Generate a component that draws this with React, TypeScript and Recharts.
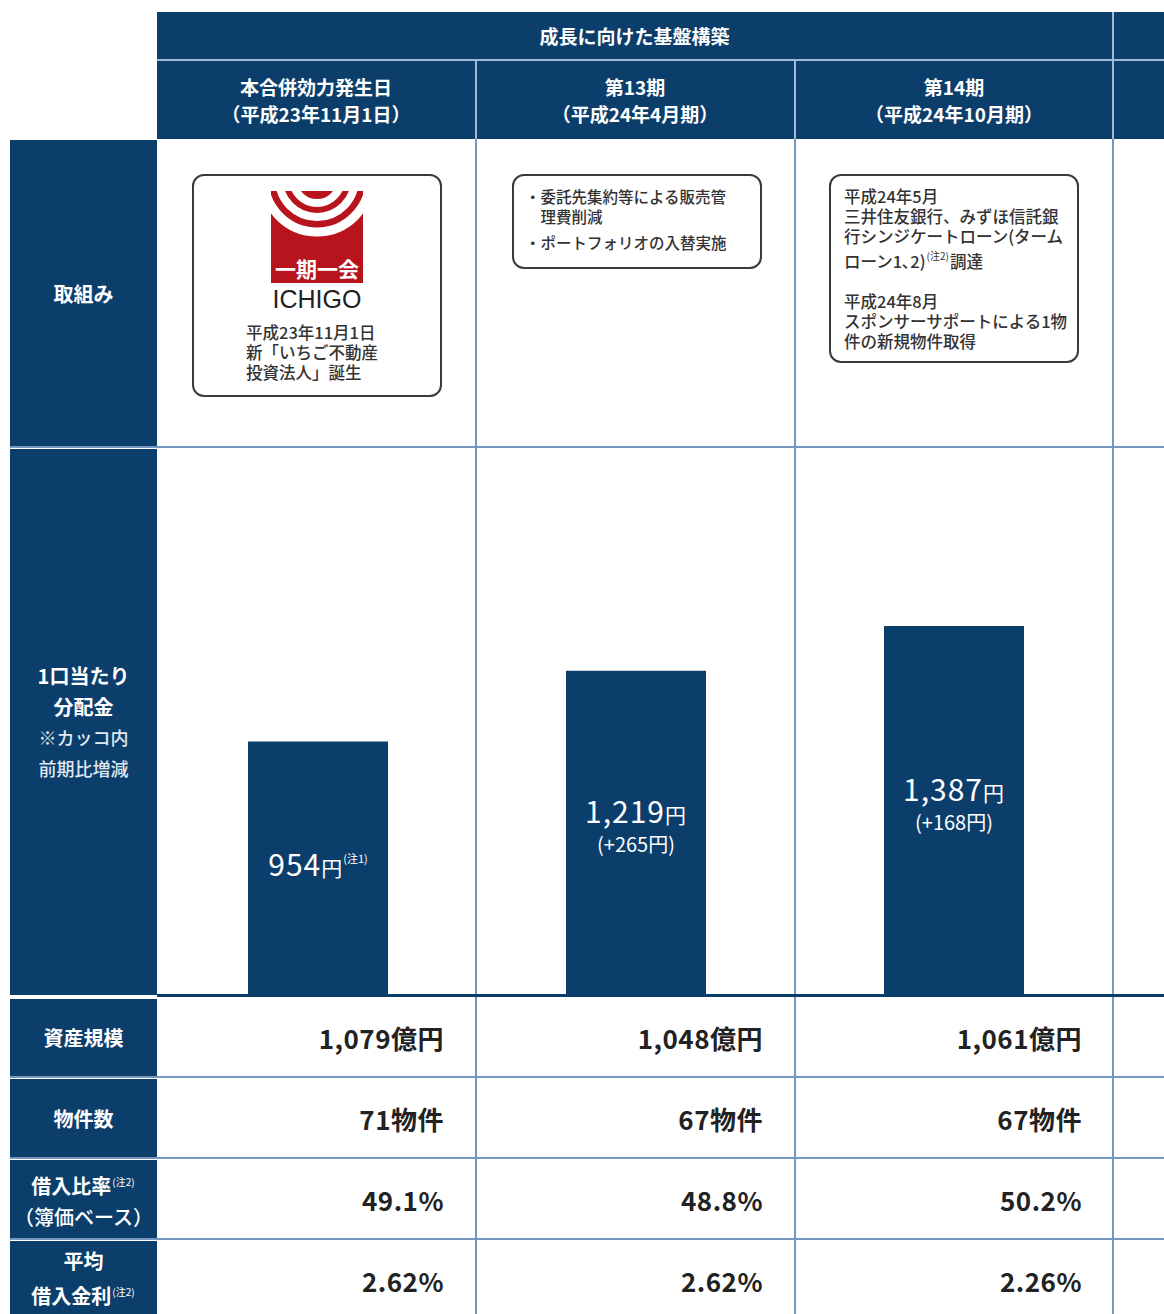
import React from 'react';
import { BarChart, Bar, XAxis, YAxis, LabelList } from 'recharts';

const groupTitle = '成長に向けた基盤構築';
const periodNames = ['本合併効力発生日', '第13期', '第14期'];
const periodDates = ['（平成23年11月1日）', '（平成24年4月期）', '（平成24年10月期）'];
const distribution = [954, 1219, 1387];
const distributionChange: (number | null)[] = [null, 265, 168];
const distributionNote = ['注1', '', ''];
const assetSize = [1079, 1048, 1061];
const propertyCount = [71, 67, 67];
const ltvRatio = [49.1, 48.8, 50.2];
const avgRate = [2.62, 2.62, 2.26];

const box2Lines = ['・委託先集約等による販売管', '　理費削減'];
const box2Last = '・ポートフォリオの入替実施';
const box3Lines = ['平成24年5月', '三井住友銀行、みずほ信託銀', '行シンジケートローン(ターム'];
const box3Lines2 = ['平成24年8月', 'スポンサーサポートによる1物', '件の新規物件取得'];

const chartData = periodNames.map((name, i) => ({
  name,
  value: distribution[i],
  change: distributionChange[i],
  note: distributionNote[i],
}));

const NAVY = '#0c3e6c';
const LINE = '#7598c0';
const HEAD_LINE = '#9fb9d6';
const FONT = "'Noto Sans CJK JP', 'Noto Sans', sans-serif";

const fmt = (n: number) => n.toLocaleString('en-US');

const BarLabel = (props: any) => {
  const { x, y, width, height, index } = props;
  const d = chartData[index];
  const cx = x + width / 2;
  const cy = y + height / 2;
  const hasChange = d.change != null;
  const mainY = hasChange ? cy - 10 : cy + 7;
  return (
    <g fontFamily={FONT} fill="#fff">
      <text x={cx} y={mainY} textAnchor="middle" letterSpacing={1}>
        <tspan fontSize={30}>{fmt(d.value)}</tspan>
        <tspan fontSize={21}>円</tspan>
        {d.note ? (
          <tspan fontSize={11} dy={-13} letterSpacing={0}>
            ({d.note})
          </tspan>
        ) : null}
      </text>
      {hasChange ? (
        <text x={cx} y={cy + 19} textAnchor="middle" fontSize={20}>
          (+{d.change}円)
        </text>
      ) : null}
    </g>
  );
};

const abs = (left: number, top: number, width: number, height: number, extra: React.CSSProperties = {}): React.CSSProperties => ({
  position: 'absolute',
  left,
  top,
  width,
  height,
  ...extra,
});

const colLeft = [157, 476, 795];
const colWidth = 318;
const rowTops = [999, 1079, 1160, 1241];
const rowHeight = 78;

const LeftCell = ({ top, height, children }: { top: number; height: number; children: React.ReactNode }) => (
  <div
    style={abs(10, top, 147, height, {
      background: NAVY,
      color: '#fff',
      display: 'flex',
      flexDirection: 'column',
      alignItems: 'center',
      justifyContent: 'center',
      fontWeight: 700,
      fontSize: 20,
      lineHeight: '31px',
      textAlign: 'center',
    })}
  >
    {children}
  </div>
);

const Sup = ({ t }: { t: string }) => (
  <span style={{ fontSize: 10, verticalAlign: 8, fontWeight: 400, margin: '0 1px' }}>({t})</span>
);

const rowValues: string[][] = [
  assetSize.map((v) => `${fmt(v)}億円`),
  propertyCount.map((v) => `${v}物件`),
  ltvRatio.map((v) => `${v.toFixed(1)}%`),
  avgRate.map((v) => `${v.toFixed(2)}%`),
];

const Logo = () => (
  <svg width={92} height={92} style={{ position: 'absolute', left: 271, top: 191 }}>
    <defs>
      <clipPath id="logoClip">
        <rect x={0} y={0} width={92} height={66} />
      </clipPath>
    </defs>
    <rect x={0} y={0} width={92} height={92} fill="#b8141d" />
    <g clipPath="url(#logoClip)" fill="none" stroke="#fff">
      <circle cx={46} cy={-12} r={53} strokeWidth={9} />
      <circle cx={46} cy={-12} r={38} strokeWidth={8} />
      <circle cx={46} cy={-12} r={24} strokeWidth={8} />
    </g>
    <text x={46} y={86} textAnchor="middle" fill="#fff" fontSize={21} fontWeight={700} fontFamily={FONT}>
      一期一会
    </text>
  </svg>
);

export default function App() {
  return (
    <div style={{ position: 'absolute', left: 0, top: 0, width: 1164, height: 1314, overflow: 'hidden', background: '#fff', fontFamily: FONT }}>
      {/* header */}
      <div style={abs(157, 12, 1007, 127, { background: NAVY })} />
      <div style={abs(157, 59, 1007, 2, { background: HEAD_LINE })} />
      <div style={abs(1112, 12, 2, 127, { background: HEAD_LINE })} />
      <div style={abs(157, 12, 955, 47, { color: '#fff', fontWeight: 700, fontSize: 19, display: 'flex', alignItems: 'center', justifyContent: 'center' })}>
        {groupTitle}
      </div>
      {periodNames.map((p, i) => (
        <React.Fragment key={p}>
          {i > 0 ? <div style={abs(colLeft[i] - 1, 61, 2, 78, { background: HEAD_LINE })} /> : null}
          <div
            style={abs(colLeft[i], 61, colWidth, 78, {
              color: '#fff',
              fontWeight: 700,
              fontSize: 19,
              lineHeight: '27px',
              display: 'flex',
              flexDirection: 'column',
              alignItems: 'center',
              justifyContent: 'center',
              textAlign: 'center',
            })}
          >
            <div>{p}</div>
            <div>{periodDates[i]}</div>
          </div>
        </React.Fragment>
      ))}

      {/* grid lines */}
      {[476, 795, 1113].map((x) => (
        <div key={x} style={abs(x - 1, 139, 2, 1175, { background: LINE })} />
      ))}
      {[447, 1077, 1158, 1239].map((y) => (
        <div key={y} style={abs(10, y - 1, 1154, 2, { background: LINE })} />
      ))}

      {/* left column */}
      <LeftCell top={140} height={306}>取組み</LeftCell>
      <LeftCell top={449} height={546}>
        <div style={{ fontSize: 20 }}>1口当たり</div>
        <div style={{ fontSize: 20 }}>分配金</div>
        <div style={{ fontSize: 18, fontWeight: 500, color: '#dfe8f2' }}>※カッコ内</div>
        <div style={{ fontSize: 18, fontWeight: 500, color: '#dfe8f2' }}>前期比増減</div>
      </LeftCell>
      <LeftCell top={999} height={77}>資産規模</LeftCell>
      <LeftCell top={1079} height={78}>物件数</LeftCell>
      <LeftCell top={1160} height={78}>
        <div>
          借入比率<Sup t="注2" />
        </div>
        <div style={{ fontWeight: 500 }}>（簿価ベース）</div>
      </LeftCell>
      <LeftCell top={1241} height={73}>
        <div>平均</div>
        <div>
          借入金利<Sup t="注2" />
        </div>
      </LeftCell>

      {/* initiatives boxes */}
      <div style={abs(192, 174, 246, 219, { border: '2px solid #3a3a3a', borderRadius: 12, background: '#fff' })} />
      <Logo />
      <div style={abs(192, 284, 250, 30, { textAlign: 'center', fontFamily: "'Liberation Sans', Arial, sans-serif", fontSize: 25, color: '#222', lineHeight: '30px' })}>
        ICHIGO
      </div>
      <div style={abs(246, 322, 190, 70, { fontSize: 16.5, lineHeight: '20px', color: '#333', fontWeight: 500, whiteSpace: 'nowrap' })}>
        <div>平成23年11月1日</div>
        <div>新「いちご不動産</div>
        <div>投資法人」誕生</div>
      </div>

      <div style={abs(512, 174, 246, 91, { border: '2px solid #3a3a3a', borderRadius: 12, background: '#fff' })} />
      <div style={abs(525, 186, 240, 80, { fontSize: 15.5, lineHeight: '20px', color: '#333', fontWeight: 500, whiteSpace: 'nowrap' })}>
        {box2Lines.map((l) => (
          <div key={l}>{l}</div>
        ))}
        <div style={{ marginTop: 6 }}>{box2Last}</div>
      </div>

      <div style={abs(829, 174, 246, 185, { border: '2px solid #3a3a3a', borderRadius: 12, background: '#fff' })} />
      <div style={abs(844, 186, 240, 170, { fontSize: 16.5, lineHeight: '20px', color: '#333', fontWeight: 500, whiteSpace: 'nowrap' })}>
        {box3Lines.map((l) => (
          <div key={l}>{l}</div>
        ))}
        <div>
          ローン1､2)<Sup t="注2" />調達
        </div>
        <div style={{ height: 20 }} />
        {box3Lines2.map((l) => (
          <div key={l}>{l}</div>
        ))}
      </div>

      {/* distribution bar chart */}
      <div style={abs(159, 449, 954, 547)}>
        <BarChart width={954} height={547} data={chartData} margin={{ top: 0, right: 0, bottom: 0, left: 0 }}>
          <XAxis dataKey="name" hide />
          <YAxis hide domain={[0, 2050]} />
          <Bar dataKey="value" fill={NAVY} barSize={140} isAnimationActive={false}>
            <LabelList dataKey="value" content={BarLabel} />
          </Bar>
        </BarChart>
      </div>
      <div style={abs(157, 994, 1007, 3, { background: NAVY })} />

      {/* table rows */}
      {rowValues.map((vals, r) =>
        vals.map((v, i) => (
          <div
            key={`${r}-${i}`}
            style={abs(colLeft[i], rowTops[r], colWidth - 31, r === 0 ? 77 : rowHeight, {
              display: 'flex',
              alignItems: 'center',
              justifyContent: 'flex-end',
              fontSize: 26,
              fontWeight: 700,
              color: '#222',
              letterSpacing: 0.5,
            })}
          >
            {v}
          </div>
        ))
      )}
    </div>
  );
}
